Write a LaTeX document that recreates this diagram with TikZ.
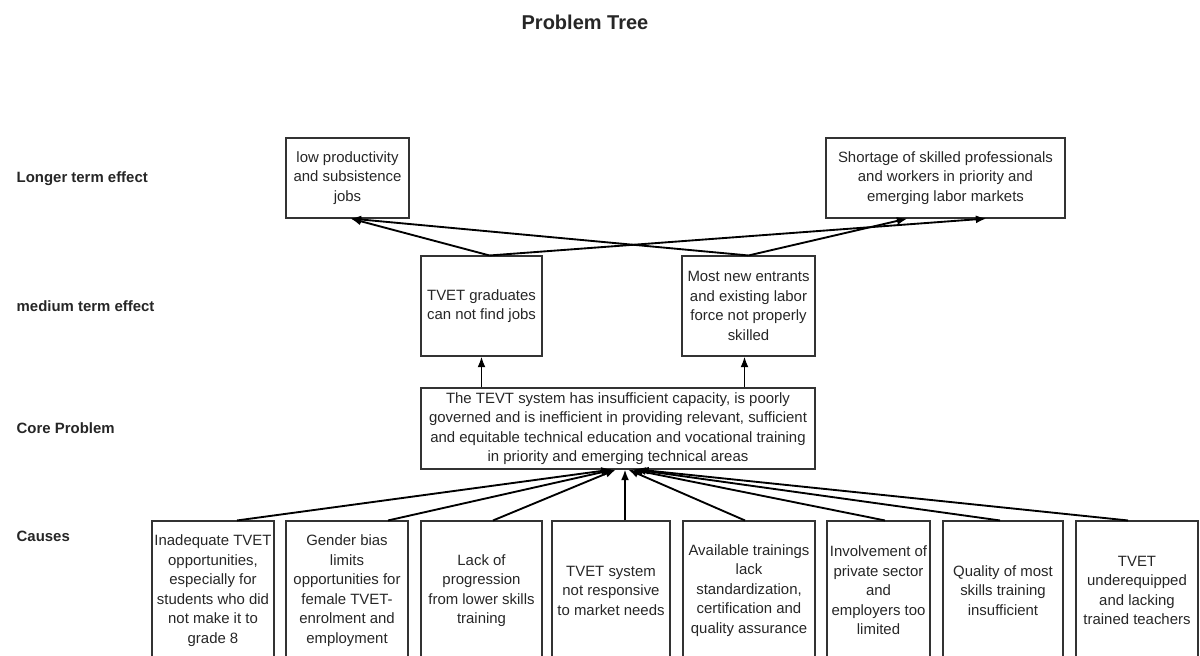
\documentclass[tikz,border=0pt]{standalone}
\usepackage{fontspec}
\setmainfont{Liberation Sans}
\usetikzlibrary{arrows.meta, calc}

\begin{document}
\begin{tikzpicture}[>={Latex[length=8pt,width=6pt]}, x=0.75pt, y=-0.75pt,
  box/.style 2 args={draw=black!80, line width=0.8pt, align=center, inner sep=1pt,
    minimum width=#1*0.75pt, minimum height=#2*0.75pt, text=black!85,
    font=\fontsize{11.2}{14.6}\selectfont},
  level/.style={anchor=west, text=black!85, font=\fontsize{11.2}{13}\selectfont\bfseries},
  link/.style={black, line width=1.4pt, ->}]

\useasboundingbox (0,0) rectangle (1200,656);

\node[text=black!85, font=\fontsize{15}{17}\selectfont\bfseries] (title) at (585,22) {Problem Tree};

% row labels
\node[level] (lbllong) at (12,179) {Longer term effect};
\node[level] (lblmed) at (12,306) {medium term effect};
\node[level] (lblcore) at (12,428) {Core Problem};
\node[level] (lblcause) at (12,536) {Causes};

% effects
\node[box={123}{80}] (l1) at (347.5,178) {low productivity\\and subsistence\\jobs};
\node[box={239}{80}] (l2) at (945.5,178) {Shortage of skilled professionals\\and workers in priority and\\emerging labor markets};
\node[box={121}{100}] (m1) at (481.5,306) {TVET graduates\\can not find jobs};
\node[box={133}{100}] (m2) at (748.5,306) {Most new entrants\\and existing labor\\force not properly\\skilled};

% core problem
\node[box={394}{81}] (core) at (618,428.5) {The TEVT system has insufficient capacity, is poorly\\governed and is inefficient in providing relevant, sufficient\\and equitable technical education and vocational training\\in priority and emerging technical areas};

% causes
\node[box={122}{139}] (c1) at (213,590.5) {Inadequate TVET\\opportunities,\\especially for\\students who did\\not make it to\\grade 8};
\node[box={122}{139}] (c2) at (347,590.5) {Gender bias\\limits\\opportunities for\\female TVET-\\enrolment and\\employment};
\node[box={121}{139}] (c3) at (481.5,590.5) {Lack of\\progression\\from lower skills\\training};
\node[box={118}{139}] (c4) at (611,590.5) {TVET system\\not responsive\\to market needs};
\node[box={132}{139}] (c5) at (749,590.5) {Available trainings\\lack\\standardization,\\certification and\\quality assurance};
\node[box={103}{139}] (c6) at (878.5,590.5) {Involvement of\\private sector\\and\\employers too\\limited};
\node[box={120}{139}] (c7) at (1003,590.5) {Quality of most\\skills training\\insufficient};
\node[box={122}{139}] (c8) at (1137,590.5) {TVET\\underequipped\\and lacking\\trained teachers};

% causes -> core
\draw[link] ($(c1.north)+(24,0)$) -- ($(core.south)+(-6,0)$);
\draw[link] ($(c2.north)+(41,0)$) -- ($(core.south)+(-4,0)$);
\draw[link] ($(c3.north)+(11.5,0)$) -- ($(core.south)+(-2,0)$);
\draw[link] ($(c4.north)+(14,0)$) -- ($(core.south)+(7,0)$);
\draw[link] ($(c5.north)+(-4,0)$) -- ($(core.south)+(10,0)$);
\draw[link] ($(c6.north)+(6.5,0)$) -- ($(core.south)+(14,0)$);
\draw[link] ($(c7.north)+(-3,0)$) -- ($(core.south)+(17,0)$);
\draw[link] ($(c8.north)+(-9,0)$) -- ($(core.south)+(20,0)$);

% core -> medium
\draw[link] (core.north -| m1.south) -- (m1.south);
\draw[link] ($(core.north -| m2.south)+(-4,0)$) -- ($(m2.south)+(-4,0)$);

% medium -> longer
\draw[link] ($(m1.north)+(8,0)$) -- ($(l1.south)+(3,0)$);
\draw[link] ($(m1.north)+(8,0)$) -- ($(l2.south)+(41,0)$);
\draw[link] (m2.north) -- ($(l1.south)+(3,0)$);
\draw[link] (m2.north) -- ($(l2.south)+(-38,0)$);

\end{tikzpicture}
\end{document}
